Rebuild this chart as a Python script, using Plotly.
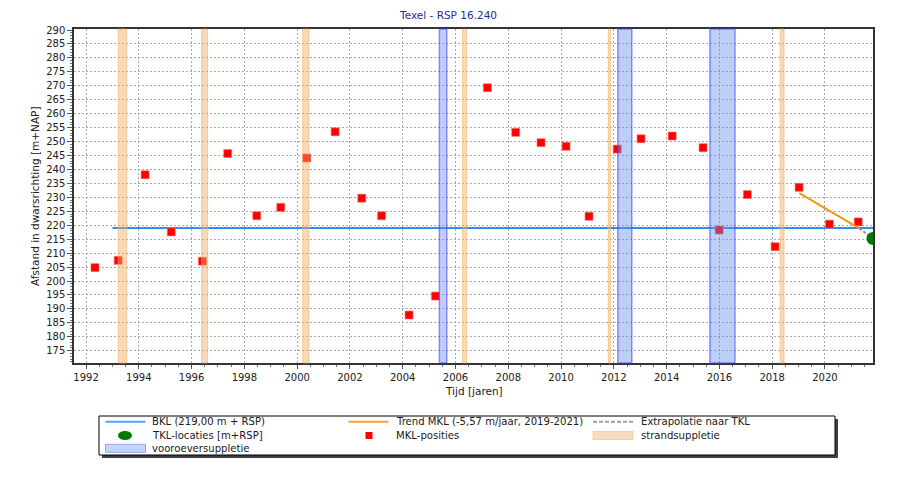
import plotly.graph_objects as go

# ---------------- data ----------------
mkl_years = [1992.34, 1993.22, 1994.24, 1995.23, 1996.41, 1997.37, 1998.47, 1999.38,
             2000.36, 2001.44, 2002.45, 2003.20, 2004.24, 2005.24, 2007.21, 2008.28,
             2009.24, 2010.19, 2011.06, 2012.13, 2013.03, 2014.21, 2015.38, 2015.99,
             2017.06, 2018.11, 2019.02, 2020.17, 2021.26]
mkl_values = [204.8, 207.4, 238.1, 217.6, 207.1, 245.7, 223.4, 226.4,
              244.1, 253.5, 229.7, 223.4, 187.8, 194.6, 269.3, 253.3,
              249.6, 248.3, 223.2, 247.3, 251.0, 252.0, 247.8, 218.3,
              231.0, 212.3, 233.6, 220.4, 221.2]

bkl_years = [1993.0, 2021.82]
bkl_values = [219.0, 219.0]

trend_years = [2019.03, 2021.30]
trend_values = [231.5, 218.9]

extrap_years = [2021.30, 2021.82]
extrap_values = [218.9, 215.2]

tkl_years = [2021.82]
tkl_values = [215.2]

strand_start = [1993.22, 1996.38, 2000.21, 2006.27, 2011.79, 2018.30]
strand_end = [1993.54, 1996.61, 2000.45, 2006.42, 2011.87, 2018.45]

vooroever_start = [2005.39, 2012.15, 2015.64]
vooroever_end = [2005.67, 2012.68, 2016.59]

x_range = [1991.545, 2021.82]
y_range = [170.6, 290.36]

title_text = "Texel - RSP 16.240"
x_title = "Tijd [jaren]"
y_title = "Afstand in dwarsrichting [m+NAP]"
legend_labels = ["BKL (219,00 m + RSP)", "Trend MKL (-5,57 m/jaar, 2019-2021)", "Extrapolatie naar TKL",
                 "TKL-locaties [m+RSP]", "MKL-posities", "strandsuppletie", "vooroeversuppletie"]

# ---------------- layout geometry ----------------
# page body has an 8px margin; figure placed so the picture lands on the reference pixels
OFF = 8
W, H = 897 - OFF, 477 - OFF
L, R, T, B = 74 - OFF, 24, 29 - OFF, 114
PW, PH = W - L - R, H - T - B
FONT = "DejaVu Sans"


def px(x):
    # x is a pixel in reference-window coordinates
    return (x - OFF - L) / PW


def py(y):
    return (H - B - (y - OFF)) / PH


fig = go.Figure()

fig.add_trace(go.Scatter(x=bkl_years, y=bkl_values, mode="lines",
                         line=dict(color="#2f8ff0", width=2), showlegend=False))
fig.add_trace(go.Scatter(x=mkl_years, y=mkl_values, mode="markers",
                         marker=dict(symbol="square", size=8, color="#ff0000",
                                     line=dict(width=0.6, color="#ff7070")),
                         showlegend=False))
fig.add_trace(go.Scatter(x=trend_years, y=trend_values, mode="lines",
                         line=dict(color="#f39317", width=2), showlegend=False))
fig.add_trace(go.Scatter(x=extrap_years, y=extrap_values, mode="lines",
                         line=dict(color="#909090", width=2, dash="3px,2px"), showlegend=False))

shapes = []
for s, e in zip(strand_start, strand_end):
    shapes.append(dict(type="rect", xref="x", yref="paper", x0=s, x1=e, y0=0, y1=1,
                       fillcolor="rgba(240,170,100,0.45)",
                       line=dict(color="rgba(240,175,90,0.55)", width=1), layer="above"))
for s, e in zip(vooroever_start, vooroever_end):
    shapes.append(dict(type="rect", xref="x", yref="paper", x0=s, x1=e, y0=0, y1=1,
                       fillcolor="rgba(100,140,230,0.42)",
                       line=dict(color="rgba(60,60,255,0.55)", width=1.5), layer="above"))

# TKL location marker: anchored on the data axes; only the part inside the plot area is drawn
# (the point sits on the right border, as in the original)
r = 6.5
k = 0.552 * r
half_circle = (f"M0,{-r} C{-k},{-r} {-r},{-k} {-r},0 C{-r},{k} {-k},{r} 0,{r} Z")
for tx, ty in zip(tkl_years, tkl_values):
    shapes.append(dict(type="path", xref="x", yref="y", xsizemode="pixel", ysizemode="pixel",
                       xanchor=tx, yanchor=ty, path=half_circle,
                       fillcolor="#007a00", line=dict(width=0), layer="above"))

# ---- legend box (custom) ----
lx0, lx1, ly0, ly1 = 99, 835, 416, 455
shapes.append(dict(type="rect", xref="paper", yref="paper", x0=px(lx0 + 3), x1=px(lx1 + 3),
                   y0=py(ly1 + 3), y1=py(ly0 + 3), fillcolor="#404040", line=dict(width=0)))
shapes.append(dict(type="rect", xref="paper", yref="paper", x0=px(lx0), x1=px(lx1),
                   y0=py(ly1), y1=py(ly0), fillcolor="white", line=dict(color="#000000", width=1)))

rows = [421.7, 435.5, 448.3]
cols_sym = [(105.5, 145.5), (348.5, 388.5), (593.0, 633.0)]
cols_txt = [150, 394, 639]

# BKL line
shapes.append(dict(type="line", xref="paper", yref="paper", x0=px(cols_sym[0][0]), x1=px(cols_sym[0][1]),
                   y0=py(rows[0]), y1=py(rows[0]), line=dict(color="#4ea6f5", width=2)))
# Trend line
shapes.append(dict(type="line", xref="paper", yref="paper", x0=px(cols_sym[1][0]), x1=px(cols_sym[1][1]),
                   y0=py(rows[0]), y1=py(rows[0]), line=dict(color="#f7a23a", width=2)))
# Extrapolation dashed
shapes.append(dict(type="line", xref="paper", yref="paper", x0=px(cols_sym[2][0]), x1=px(cols_sym[2][1]),
                   y0=py(rows[0]), y1=py(rows[0]), line=dict(color="#a0a0a0", width=2, dash="4px,2px")))
# TKL ellipse
shapes.append(dict(type="circle", xref="paper", yref="paper", x0=px(118), x1=px(132),
                   y0=py(rows[1] + 4.5), y1=py(rows[1] - 4.5), fillcolor="#007a00", line=dict(width=0)))
# MKL square
shapes.append(dict(type="rect", xref="paper", yref="paper", x0=px(365.5), x1=px(372.5),
                   y0=py(rows[1] + 3.5), y1=py(rows[1] - 3.5), fillcolor="#ff0000", line=dict(width=0)))
# strandsuppletie rect
shapes.append(dict(type="rect", xref="paper", yref="paper", x0=px(cols_sym[2][0]), x1=px(cols_sym[2][1]),
                   y0=py(rows[1] + 4), y1=py(rows[1] - 4), fillcolor="#f9dcbf",
                   line=dict(color="#f3cfa6", width=1)))
# vooroever rect
shapes.append(dict(type="rect", xref="paper", yref="paper", x0=px(cols_sym[0][0]), x1=px(cols_sym[0][1]),
                   y0=py(rows[2] + 4), y1=py(rows[2] - 4), fillcolor="#c4d4f6",
                   line=dict(color="#8ea6ee", width=1)))

annotations = []
legend_pos = [(0, 0), (1, 0), (2, 0), (0, 1), (1, 1), (2, 1), (0, 2)]
for lab, (c, rr) in zip(legend_labels, legend_pos):
    annotations.append(dict(text=lab, xref="paper", yref="paper", x=px(cols_txt[c]), y=py(rows[rr]),
                            xanchor="left", yanchor="middle", showarrow=False,
                            font=dict(family=FONT, size=10.1, color="#202020")))

annotations.append(dict(text=title_text, xref="paper", yref="paper", x=px(448), y=py(15),
                        xanchor="center", yanchor="middle", showarrow=False,
                        font=dict(family=FONT, size=10.5, color="#2b2b9a")))
annotations.append(dict(text=x_title, xref="paper", yref="paper", x=px(474), y=py(391),
                        xanchor="center", yanchor="middle", showarrow=False,
                        font=dict(family=FONT, size=10.5, color="#202020")))
annotations.append(dict(text=y_title, xref="paper", yref="paper", x=px(35), y=0.5, textangle=-90,
                        xanchor="center", yanchor="middle", showarrow=False,
                        font=dict(family=FONT, size=10.5, color="#202020")))

fig.update_layout(
    width=W, height=H,
    margin=dict(l=L, r=R, t=T, b=B, pad=0),
    paper_bgcolor="white", plot_bgcolor="white",
    showlegend=False,
    shapes=shapes, annotations=annotations,
    font=dict(family=FONT, size=10, color="#202020"),
)
fig.update_xaxes(range=x_range, dtick=2, tick0=1992, ticks="outside", ticklen=4, tickcolor="#555",
                 showgrid=True, gridcolor="#a8a8a8", griddash="2px,2px", gridwidth=1,
                 showline=True, linecolor="#333", linewidth=1.5, mirror=True, zeroline=False,
                 tickfont=dict(family=FONT, size=10, color="#202020"),
                 minor=dict(dtick=0.5, ticks="outside", ticklen=2, tickcolor="#777", showgrid=False),
                 automargin=False, fixedrange=True)
fig.update_yaxes(range=y_range, dtick=5, tick0=175, ticks="outside", ticklen=5, tickcolor="#555",
                 showgrid=True, gridcolor="#a8a8a8", griddash="2px,2px", gridwidth=1,
                 showline=True, linecolor="#333", linewidth=1.5, mirror=True, zeroline=False,
                 tickfont=dict(family=FONT, size=10, color="#202020"),
                 minor=dict(dtick=1, ticks="outside", ticklen=2, tickcolor="#777", showgrid=False),
                 automargin=False, fixedrange=True)

fig.write_html("out.html")
